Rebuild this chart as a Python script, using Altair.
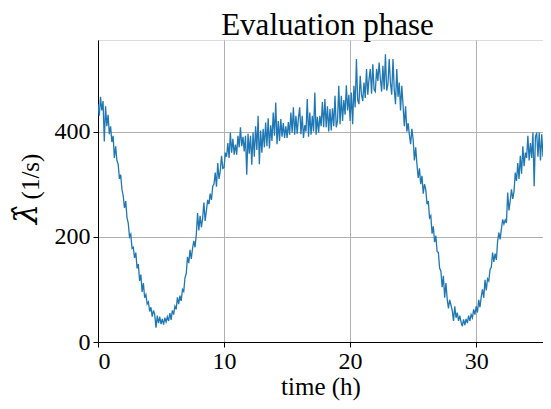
import altair as alt
import pandas as pd

# Estimated rate (1/s), sampled every 0.1 h from t = 0 h
rate = [
    452, 430, 466, 440, 458, 381, 448, 410, 432, 395,
    410, 380, 392, 350, 372, 345, 338, 310, 318, 290,
    278, 255, 268, 236, 226, 200, 205, 178, 180, 160,
    170, 140, 148, 116, 128, 95, 112, 84, 90, 72,
    76, 58, 66, 48, 60, 52, 27, 50, 36, 48,
    34, 44, 33, 46, 38, 48, 40, 55, 42, 60,
    52, 68, 62, 85, 72, 88, 78, 100, 96, 122,
    130, 162, 150, 175, 158, 178, 192, 180, 205, 245,
    212, 240, 218, 235, 265, 230, 250, 270, 262, 282,
    270, 296, 300, 322, 295, 340, 310, 325, 354, 330,
    332, 360, 352, 378, 350, 398, 360, 386, 356, 375,
    356, 392, 370, 408, 372, 390, 362, 392, 318, 396,
    358, 392, 337, 398, 352, 410, 365, 430, 338, 402,
    360, 405, 370, 417, 372, 425, 368, 412, 382, 436,
    392, 455, 376, 420, 382, 424, 390, 416, 388, 410,
    388, 418, 394, 436, 398, 446, 394, 430, 396, 426,
    446, 395, 430, 388, 412, 400, 462, 390, 436, 394,
    430, 400, 474, 394, 428, 398, 430, 410, 456, 408,
    462, 408, 448, 400, 443, 402, 444, 410, 468, 408,
    420, 487, 414, 468, 420, 460, 432, 488, 440, 470,
    420, 474, 414, 487, 446, 538, 460, 452, 506, 470,
    458, 493, 464, 519, 470, 500, 519, 472, 528, 480,
    476, 519, 496, 531, 500, 476, 525, 480, 547, 478,
    490, 538, 492, 470, 538, 480, 452, 519, 466, 493,
    440, 487, 450, 410, 448, 400, 416, 394, 376, 405,
    385, 345, 370, 338, 312, 330, 300, 316, 282, 300,
    290, 262, 268, 236, 240, 206, 220, 190, 202, 172,
    170, 140, 135, 104, 126, 84, 112, 82, 64, 80,
    70, 60, 40, 68, 46, 56, 40, 50, 38, 30,
    43, 32, 44, 36, 50, 40, 52, 46, 62, 52,
    68, 56, 80, 66, 86, 100, 84, 118, 98, 120,
    116, 138, 142, 170, 152, 168, 156, 192, 208, 195,
    215, 233, 224, 232, 226, 284, 250, 268, 290, 272,
    286, 322, 306, 340, 310, 354, 320, 372, 334, 360,
    350, 392, 345, 378, 350, 398, 296, 390, 398, 352,
    398, 345, 395, 352, 398, 350, 416, 352, 392, 346,
]
t_start = 0.0
t_step = 0.1
hours = [round(t_start + i * t_step, 2) for i in range(len(rate))]

x_ticks = [0, 10, 20, 30]
y_ticks = [0, 200, 400]

df = pd.DataFrame({"t": hours, "rate": rate})

FONT = "Liberation Serif"

base = alt.Chart(df)

line = base.mark_line(color="#1f77b4", strokeWidth=1.3, clip=True).encode(
    x=alt.X(
        "t:Q",
        scale=alt.Scale(domain=[0, 35.3], nice=False, zero=False),
        axis=alt.Axis(
            title="time (h)",
            values=x_ticks,
            format="d",
            labelFont=FONT,
            labelFontSize=24,
            labelColor="black",
            labelPadding=2,
            titleFont=FONT,
            titleFontSize=25,
            titleFontWeight="normal",
            titleColor="black",
            titlePadding=1,
            tickColor="black",
            tickSize=5,
            domainColor="black",
            gridColor="#b0b0b0",
            gridWidth=1,
        ),
    ),
    y=alt.Y(
        "rate:Q",
        scale=alt.Scale(domain=[0, 574], nice=False),
        axis=alt.Axis(
            title="(1/s)",
            values=y_ticks,
            format="d",
            labelFont=FONT,
            labelFontSize=24,
            labelColor="black",
            labelPadding=3,
            titleFont=FONT,
            titleFontSize=25,
            titleFontWeight="normal",
            titleColor="black",
            titleAngle=270,
            titleAlign="center",
            titleBaseline="alphabetic",
            titleX=-60,
            titleY=136,
            tickColor="black",
            tickSize=5,
            domainColor="black",
            gridColor="#b0b0b0",
            gridWidth=1,
        ),
    ),
)

lam = alt.Chart(pd.DataFrame({"s": ["λ̂"]})).mark_text(
    font="DejaVu Serif",
    fontStyle="italic",
    fontSize=32,
    angle=270,
    align="center",
    baseline="alphabetic",
    color="black",
).encode(text="s:N", x=alt.value(-61), y=alt.value(174))

chart = (
    alt.layer(line, lam)
    .properties(
        width=445,
        height=302,
        title=alt.TitleParams(
            "Evaluation phase",
            font=FONT,
            fontSize=31,
            fontWeight="normal",
            color="black",
            anchor="middle",
            offset=0,
            dx=7,
            dy=2,
        ),
        autosize=alt.AutoSizeParams(type="none"),
        padding={"left": 90, "top": 32, "right": 0, "bottom": 59},
    )
    .configure_view(stroke="black", strokeWidth=1)
    .configure(background="white")
)

chart.save("out.html", embed_options={"renderer": "svg", "actions": False})
